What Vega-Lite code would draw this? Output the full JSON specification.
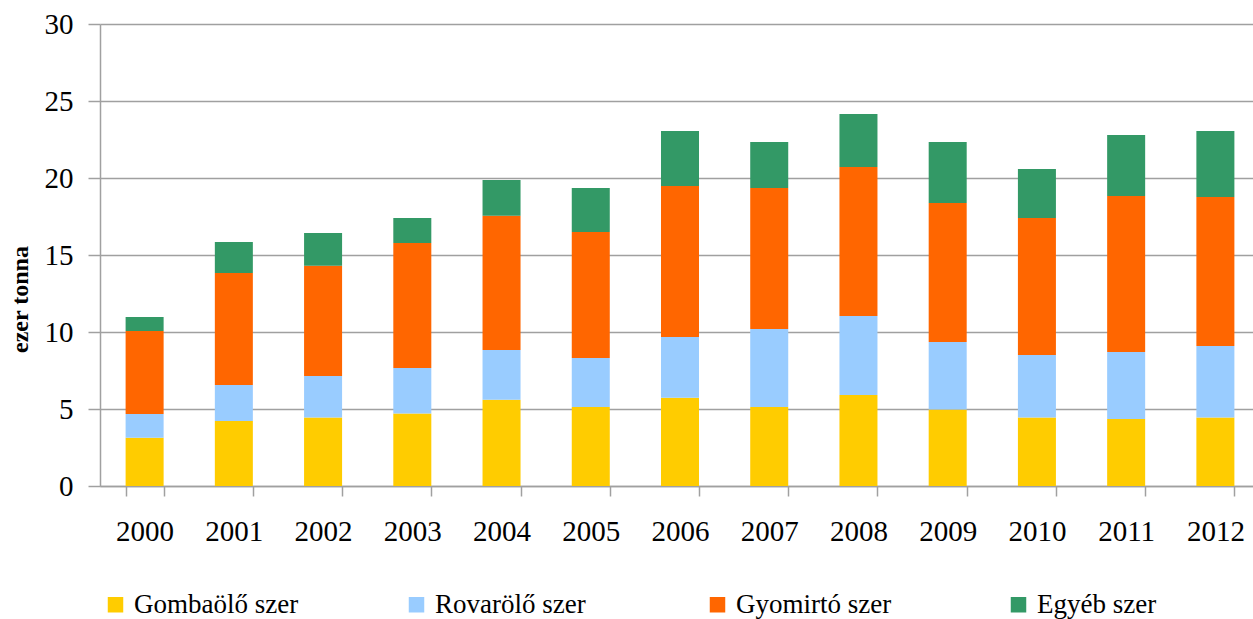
{
  "$schema": "https://vega.github.io/schema/vega-lite/v6.json",
  "width": 1160,
  "height": 462,
  "autosize": {"type": "none"},
  "padding": {"left": 100, "top": 24, "right": 0, "bottom": 133},
  "background": "white",
  "config": {
    "view": {"stroke": null},
    "font": "Liberation Serif"
  },
  "data": {
    "values": [
      {"ev": "2000", "tipus": "Gombaölő szer", "sor": 1, "ertek": 3.14},
      {"ev": "2000", "tipus": "Rovarölő szer", "sor": 2, "ertek": 1.54},
      {"ev": "2000", "tipus": "Gyomirtó szer", "sor": 3, "ertek": 5.38},
      {"ev": "2000", "tipus": "Egyéb szer", "sor": 4, "ertek": 0.91},
      {"ev": "2001", "tipus": "Gombaölő szer", "sor": 1, "ertek": 4.22},
      {"ev": "2001", "tipus": "Rovarölő szer", "sor": 2, "ertek": 2.34},
      {"ev": "2001", "tipus": "Gyomirtó szer", "sor": 3, "ertek": 7.27},
      {"ev": "2001", "tipus": "Egyéb szer", "sor": 4, "ertek": 2.01},
      {"ev": "2002", "tipus": "Gombaölő szer", "sor": 1, "ertek": 4.44},
      {"ev": "2002", "tipus": "Rovarölő szer", "sor": 2, "ertek": 2.70},
      {"ev": "2002", "tipus": "Gyomirtó szer", "sor": 3, "ertek": 7.17},
      {"ev": "2002", "tipus": "Egyéb szer", "sor": 4, "ertek": 2.12},
      {"ev": "2003", "tipus": "Gombaölő szer", "sor": 1, "ertek": 4.70},
      {"ev": "2003", "tipus": "Rovarölő szer", "sor": 2, "ertek": 2.96},
      {"ev": "2003", "tipus": "Gyomirtó szer", "sor": 3, "ertek": 8.12},
      {"ev": "2003", "tipus": "Egyéb szer", "sor": 4, "ertek": 1.62},
      {"ev": "2004", "tipus": "Gombaölő szer", "sor": 1, "ertek": 5.60},
      {"ev": "2004", "tipus": "Rovarölő szer", "sor": 2, "ertek": 3.23},
      {"ev": "2004", "tipus": "Gyomirtó szer", "sor": 3, "ertek": 8.72},
      {"ev": "2004", "tipus": "Egyéb szer", "sor": 4, "ertek": 2.32},
      {"ev": "2005", "tipus": "Gombaölő szer", "sor": 1, "ertek": 5.13},
      {"ev": "2005", "tipus": "Rovarölő szer", "sor": 2, "ertek": 3.18},
      {"ev": "2005", "tipus": "Gyomirtó szer", "sor": 3, "ertek": 8.18},
      {"ev": "2005", "tipus": "Egyéb szer", "sor": 4, "ertek": 2.86},
      {"ev": "2006", "tipus": "Gombaölő szer", "sor": 1, "ertek": 5.73},
      {"ev": "2006", "tipus": "Rovarölő szer", "sor": 2, "ertek": 3.95},
      {"ev": "2006", "tipus": "Gyomirtó szer", "sor": 3, "ertek": 9.80},
      {"ev": "2006", "tipus": "Egyéb szer", "sor": 4, "ertek": 3.57},
      {"ev": "2007", "tipus": "Gombaölő szer", "sor": 1, "ertek": 5.13},
      {"ev": "2007", "tipus": "Rovarölő szer", "sor": 2, "ertek": 5.06},
      {"ev": "2007", "tipus": "Gyomirtó szer", "sor": 3, "ertek": 9.16},
      {"ev": "2007", "tipus": "Egyéb szer", "sor": 4, "ertek": 2.99},
      {"ev": "2008", "tipus": "Gombaölő szer", "sor": 1, "ertek": 5.91},
      {"ev": "2008", "tipus": "Rovarölő szer", "sor": 2, "ertek": 5.13},
      {"ev": "2008", "tipus": "Gyomirtó szer", "sor": 3, "ertek": 9.67},
      {"ev": "2008", "tipus": "Egyéb szer", "sor": 4, "ertek": 3.45},
      {"ev": "2009", "tipus": "Gombaölő szer", "sor": 1, "ertek": 4.96},
      {"ev": "2009", "tipus": "Rovarölő szer", "sor": 2, "ertek": 4.39},
      {"ev": "2009", "tipus": "Gyomirtó szer", "sor": 3, "ertek": 9.03},
      {"ev": "2009", "tipus": "Egyéb szer", "sor": 4, "ertek": 3.96},
      {"ev": "2010", "tipus": "Gombaölő szer", "sor": 1, "ertek": 4.44},
      {"ev": "2010", "tipus": "Rovarölő szer", "sor": 2, "ertek": 4.07},
      {"ev": "2010", "tipus": "Gyomirtó szer", "sor": 3, "ertek": 8.89},
      {"ev": "2010", "tipus": "Egyéb szer", "sor": 4, "ertek": 3.18},
      {"ev": "2011", "tipus": "Gombaölő szer", "sor": 1, "ertek": 4.35},
      {"ev": "2011", "tipus": "Rovarölő szer", "sor": 2, "ertek": 4.35},
      {"ev": "2011", "tipus": "Gyomirtó szer", "sor": 3, "ertek": 10.13},
      {"ev": "2011", "tipus": "Egyéb szer", "sor": 4, "ertek": 3.96},
      {"ev": "2012", "tipus": "Gombaölő szer", "sor": 1, "ertek": 4.44},
      {"ev": "2012", "tipus": "Rovarölő szer", "sor": 2, "ertek": 4.65},
      {"ev": "2012", "tipus": "Gyomirtó szer", "sor": 3, "ertek": 9.68},
      {"ev": "2012", "tipus": "Egyéb szer", "sor": 4, "ertek": 4.28}
    ]
  },
  "mark": {"type": "bar"},
  "encoding": {
    "x": {
      "field": "ev",
      "type": "nominal",
      "scale": {"paddingInner": 0.574, "paddingOuter": 0.287},
      "axis": {
        "title": null,
        "labelAngle": 0,
        "labelFont": "Liberation Serif",
        "labelFontSize": 29,
        "labelColor": "black",
        "labelPadding": 21,
        "tickBand": "extent",
        "tickSize": 10,
        "tickColor": "#a0a0a0",
        "tickWidth": 1.5,
        "domainColor": "#a0a0a0",
        "domainWidth": 1.5,
        "grid": false
      }
    },
    "y": {
      "field": "ertek",
      "type": "quantitative",
      "stack": "zero",
      "scale": {"domain": [0, 30], "nice": false},
      "axis": {
        "title": "ezer tonna",
        "titleFont": "Liberation Serif",
        "titleFontSize": 24,
        "titleFontWeight": "bold",
        "titleColor": "black",
        "titleAngle": 270,
        "titleX": -80,
        "titleY": 275,
        "titleAlign": "center",
        "titleBaseline": "middle",
        "values": [0, 5, 10, 15, 20, 25, 30],
        "labelFont": "Liberation Serif",
        "labelFontSize": 29,
        "labelColor": "black",
        "labelPadding": 15,
        "tickSize": 12,
        "tickColor": "#a0a0a0",
        "tickWidth": 1.5,
        "domainColor": "#a0a0a0",
        "domainWidth": 1.5,
        "grid": true,
        "gridColor": "#a0a0a0",
        "gridWidth": 1.5
      }
    },
    "color": {
      "field": "tipus",
      "type": "nominal",
      "sort": ["Gombaölő szer", "Rovarölő szer", "Gyomirtó szer", "Egyéb szer"],
      "scale": {
        "domain": ["Gombaölő szer", "Rovarölő szer", "Gyomirtó szer", "Egyéb szer"],
        "range": ["#FFCC00", "#99CCFF", "#FF6600", "#339966"]
      },
      "legend": {
        "title": null,
        "orient": "none",
        "legendX": 2,
        "legendY": 567,
        "padding": 0,
        "direction": "horizontal",
        "columns": 4,
        "gridAlign": "all",
        "columnPadding": 104,
        "symbolType": "square",
        "symbolSize": 240,
        "symbolStrokeWidth": 0,
        "symbolOffset": 0,
        "labelOffset": 5,
        "labelFont": "Liberation Serif",
        "labelFontSize": 27,
        "labelColor": "black",
        "labelLimit": 400
      }
    },
    "order": {"field": "sor", "type": "quantitative", "sort": "ascending"}
  }
}
